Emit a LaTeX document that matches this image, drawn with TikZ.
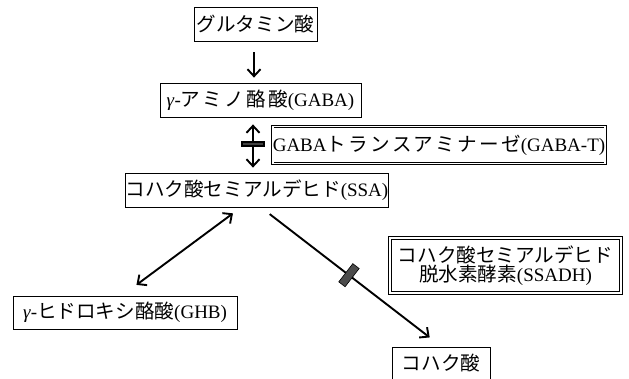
\documentclass[tikz,border=0pt]{standalone}
\usepackage{fontspec}
\setmainfont{Liberation Serif}
\newfontfamily\jp[Scale=1.03]{Noto Sans CJK JP}
\newfontfamily\jpw[Scale=1.03,LetterSpace=12]{Noto Sans CJK JP}
\usetikzlibrary{arrows.meta}
\begin{document}
\begin{tikzpicture}[x=1pt,y=-1pt,
  box/.style={draw=black, line width=0.8pt, inner sep=0pt, font=\fontsize{19}{22}\selectfont},
  dbox/.style={box, double, double distance=1.6pt, line width=0.8pt},
  conn/.style={line width=1.9pt},
  tip/.tip={Straight Barb[length=7pt,width=13pt,line width=1.9pt]},
  blocker/.style={draw=black, fill=black!70, line width=0.6pt, inner sep=0pt, sloped, minimum width=8pt, minimum height=23pt}
]
\useasboundingbox[fill=white] (0,0) rectangle (629,378);

\node[box, minimum width=123pt, minimum height=34pt] (glu) at (255.5,24) {\jp グルタミン酸};
\node[box, minimum width=201pt, minimum height=34pt] (gaba) at (260.5,100) {\textit{γ}-{\jpw アミノ酪酸}(GABA)};
\node[dbox, minimum width=324pt, minimum height=37pt] (gabat) at (439,145) {GABA{\jpw トランスアミナーゼ}(GABA-T)};
\node[box, minimum width=262pt, minimum height=34pt] (ssa) at (257,190) {{\jp コハク酸セミアルデヒド}(SSA)};
\node[box, minimum width=224pt, minimum height=33pt] (ghb) at (125,312.5) {\textit{γ}-{\jp ヒドロキシ酪酸}(GHB)};
\node[dbox, minimum width=231pt, minimum height=55pt, align=center] (ssadh) at (505.5,265.5) {{\jp コハク酸セミアルデヒド}\\[-3pt]{\jp 脱水素酵素}(SSADH)};
\node[box, minimum width=98pt, minimum height=33pt] (suc) at (441,363.5) {\jp コハク酸};

\draw[conn, -tip, shorten <=11pt, shorten >=5pt] (glu.south -| 254,0) -- (gaba.north -| 254,0);
\draw[conn, tip-tip, shorten <=7pt, shorten >=5pt] (gaba.south -| 253,0) -- node[pos=0.48, draw=black, fill=black!75, inner sep=0pt, minimum width=22pt, minimum height=4.5pt] (bar) {} (ssa.north -| 253,0);
\draw[conn, tip-tip, shorten <=10pt, shorten >=18pt] (ssa.south -| 241,0) -- (ghb.north -| 122,0);
\draw[conn, -tip, shorten <=11pt, shorten >=15pt] (ssa.south -| 261,0) -- node[blocker, pos=0.487] (blk) {} (suc.north -| 441.6,0);
\end{tikzpicture}
\end{document}
